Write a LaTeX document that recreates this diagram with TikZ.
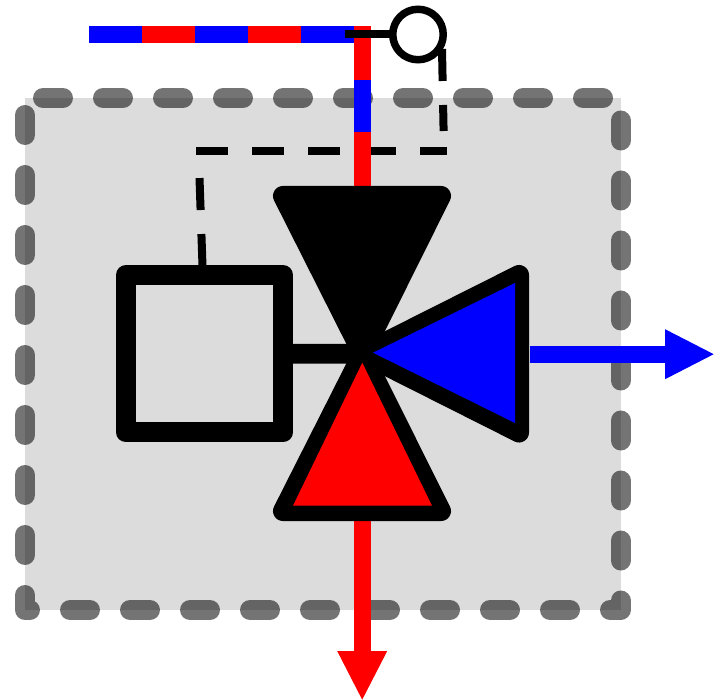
\documentclass[tikz,border=0pt]{standalone}
\usetikzlibrary{arrows.meta}
\definecolor{panelgrey}{HTML}{DCDCDC}
\tikzset{
  x=1pt,y=-1pt,
  panel/.style={fill=panelgrey,draw=none},
  panelborder/.style={draw=black,draw opacity=.545,line width=20pt,line cap=round,line join=round,dash pattern=on 20pt off 40pt},
  pipe/.style={line width=16.7pt,line cap=butt},
  flowarrow/.style={line width=16.7pt,-{Triangle[length=50pt,width=46pt]}},
  signal/.style={draw=black,line width=8pt},
  signaldash/.style={signal,dash pattern=on 32pt off 24pt},
  sensornode/.style={circle,draw=black,fill=white,line width=7.5pt,minimum size=50.5pt,inner sep=0pt,outer sep=0pt},
  actuatornode/.style={rectangle,draw=black,line width=20pt,line join=round,minimum width=157pt,minimum height=157.5pt,inner sep=0pt,outer sep=0pt},
  valvebody/.style={fill=black,draw=black,line width=20pt,line join=round},
}
\begin{document}
\begin{tikzpicture}
\useasboundingbox (0,0) rectangle (723,700);
\fill[white] (0,0) rectangle (723,700);
% panel
\fill[panel] (25,98) rectangle (620.5,610);
\draw[panelborder] (25,115) -- (25,610) -- (620.5,610) -- (620.5,98) -- (25,98) -- (25,115);
% named places
\coordinate (apex) at (362.5,353.7);
\coordinate (pipeleft) at (89,34.5);
\coordinate (pipecorner) at (362.3,34.5);
% signal lines (under the pipes)
\draw[signaldash] (196,151.5) -- (447,151.5);
\draw[signaldash] (442,49) -- (443.6,131);
\draw[signaldash] (202.5,266) -- (199.5,178);
% riser
\draw[pipe,red] (362.3,26) -- (362.3,80);
\draw[pipe,blue] (362.3,80) -- (362.3,132.5);
\draw[pipe,red] (362.3,132.5) -- (362.3,187);
% top pipe
\draw[pipe,blue] (pipeleft) -- (142,34.5);
\draw[pipe,red] (142,34.5) -- (195,34.5);
\draw[pipe,blue] (195,34.5) -- (248,34.5);
\draw[pipe,red] (248,34.5) -- (301,34.5);
\draw[pipe,blue] (301,34.5) -- (354,34.5);
% sensor
\node[sensornode] (sensor) at (418,34.5) {};
\coordinate (tap) at (345,34.5);
\draw[signal] (tap) -- (sensor.west);
% actuator
\node[actuatornode] (actuator) at (204.5,353.75) {};
\draw[black,line width=19.6pt] (actuator.east) -- (apex);
% outlets
\coordinate (redstart) at (362.2,519);
\coordinate (redtip) at (362.2,701);
\coordinate (bluestart) at (530,354.2);
\coordinate (bluetip) at (715,354.2);
\draw[flowarrow,red] (redstart) -- (redtip);
\draw[flowarrow,blue] (bluestart) -- (bluetip);
% valve
\filldraw[valvebody] (283,196) -- (441,196) -- (apex) -- cycle;
\filldraw[valvebody] (283,511) -- (441,511) -- (apex) -- cycle;
\filldraw[valvebody] (519,275) -- (519,432.5) -- (apex) -- cycle;
\fill[red] (293,505.7) -- (432,505.7) -- (362.3,362.7) -- cycle;
\fill[blue] (515,283) -- (515,423) -- (373,352.7) -- cycle;
\end{tikzpicture}
\end{document}
